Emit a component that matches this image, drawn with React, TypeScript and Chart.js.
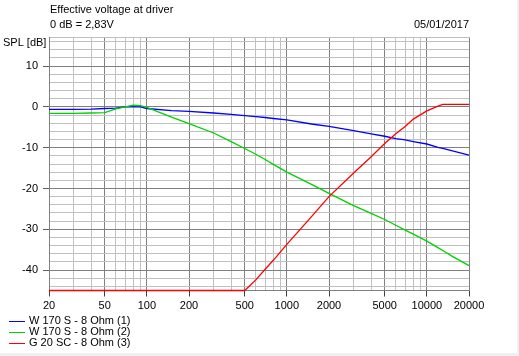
import React, { useEffect, useRef } from 'react';
import { Chart, registerables } from 'chart.js';

Chart.register(...registerables);

// ---- data ----
const freqs = [20, 30, 40, 50, 60, 70, 80, 90, 100, 150, 200, 300, 400, 500, 600, 700, 800, 1000, 1500, 2000, 3000, 4000, 5000, 6000, 7000, 8000, 10000, 12000, 13000, 15000, 20000];
const blueDb = [-0.6, -0.6, -0.55, -0.4, -0.3, 0, 0.05, 0, -0.4, -0.9, -1.1, -1.5, -1.85, -2.15, -2.4, -2.6, -2.85, -3.2, -4.2, -4.8, -5.8, -6.6, -7.2, -7.8, -8.1, -8.5, -9.1, -9.9, -10.2, -10.7, -11.8];
const greenDb = [-1.6, -1.6, -1.5, -1.4, -0.5, 0, 0.4, 0.3, -0.1, -2.5, -4.1, -6.4, -8.5, -10.2, -11.6, -12.9, -14.1, -16.0, -19.0, -21.2, -24.2, -26.1, -27.6, -29.0, -30.2, -31.2, -32.9, -34.5, -35.2, -36.5, -38.9];
const redDb = [-45, -45, -45, -45, -45, -45, -45, -45, -45, -45, -45, -45, -45, -45, -42.4, -39.8, -37.6, -33.7, -26.9, -22.0, -16.2, -12.2, -9.0, -6.6, -4.8, -3.0, -1.0, 0.2, 0.6, 0.6, 0.6];

const seriesLabels = ['W 170 S - 8 Ohm (1)', 'W 170 S - 8 Ohm (2)', 'G 20 SC - 8 Ohm (3)'];
const seriesColors = ['#0000ff', '#00d000', '#ff0000'];

const xGridValues = [20, 30, 40, 50, 60, 70, 80, 90, 100, 200, 300, 400, 500, 600, 700, 800, 900, 1000, 2000, 3000, 4000, 5000, 6000, 7000, 8000, 9000, 10000, 20000];
const xTickLabels = [20, 50, 100, 200, 500, 1000, 2000, 5000, 10000, 20000];
const yGridValues = [-45, -44, -42, -40, -38, -36, -34, -32, -30, -28, -26, -24, -22, -20, -18, -16, -14, -12, -10, -8, -6, -4, -2, 0, 2, 4, 6, 8, 10, 12, 14, 16, 17];
const yTickLabels = [10, 0, -10, -20, -30, -40];
const yMin = -45;
const yMax = 17;

const titleLine1 = 'Effective voltage at driver';
const titleLine2 = '0 dB = 2,83V';
const dateText = '05/01/2017';
const yAxisTitle = 'SPL [dB]';

const FONT = '"Liberation Sans", Arial, sans-serif';

const decorPlugin = {
  id: 'decor',
  afterDraw(chart: any) {
    const ctx = chart.ctx;
    const a = chart.chartArea;
    ctx.save();
    ctx.font = `11px ${FONT}`;
    ctx.fillStyle = '#000';
    ctx.textBaseline = 'middle';
    ctx.textAlign = 'left';
    ctx.fillText(titleLine1, a.left + 1, 10);
    ctx.fillText(titleLine2, a.left + 1, 25);
    ctx.fillText(yAxisTitle, 3, 43);
    ctx.textAlign = 'right';
    ctx.fillText(dateText, a.right, 25);
    ctx.textAlign = 'left';
    chart.data.datasets.forEach((ds: any, i: number) => {
      const y = 320.5 + i * 11.2;
      ctx.strokeStyle = ds.borderColor;
      ctx.lineWidth = 1;
      ctx.beginPath();
      ctx.moveTo(9, Math.round(y) + 0.5);
      ctx.lineTo(25, Math.round(y) + 0.5);
      ctx.stroke();
      ctx.fillStyle = '#000';
      ctx.fillText(ds.label, 29, y);
    });
    ctx.fillStyle = '#f0f0f0';
    ctx.fillRect(517, 0, 2, chart.height);
    ctx.fillRect(0, 353, chart.width, 3);
    ctx.restore();
  },
};

export default function App() {
  const ref = useRef<HTMLCanvasElement | null>(null);
  useEffect(() => {
    if (!ref.current) return;
    const dbs = [blueDb, greenDb, redDb];
    const chart = new Chart(ref.current, {
      type: 'line',
      data: {
        datasets: dbs.map((arr, i) => ({
          label: seriesLabels[i],
          data: freqs.map((f, j) => ({ x: f, y: arr[j] })),
          borderColor: seriesColors[i],
          backgroundColor: seriesColors[i],
          borderWidth: 1.3,
          pointRadius: 0,
          tension: 0,
          fill: false,
          clip: 2,
          order: 3 - i,
        })),
      },
      options: {
        responsive: false,
        animation: false,
        events: [],
        layout: { padding: { top: 37.5, right: 50, left: 0, bottom: 0 } },
        plugins: { legend: { display: false }, tooltip: { enabled: false }, title: { display: false } },
        scales: {
          x: {
            type: 'logarithmic',
            min: 20,
            max: 20000,
            afterBuildTicks: (s: any) => {
              s.ticks = xGridValues.map((v) => ({ value: v }));
            },
            afterFit: (s: any) => {
              s.height = 65.5;
            },
            ticks: {
              autoSkip: false,
              maxRotation: 0,
              minRotation: 0,
              padding: 3,
              color: '#000',
              font: { family: FONT, size: 11 },
              major: { enabled: false },
              callback: (v: any) => (xTickLabels.includes(Number(v)) ? String(v) : ''),
            },
            grid: {
              color: (c: any) => (c.tick && xTickLabels.includes(c.tick.value) ? '#808080' : '#c0c0c0'),
              tickColor: (c: any) => (c.tick && xTickLabels.includes(c.tick.value) ? '#404040' : 'rgba(0,0,0,0)'),
              tickLength: 6,
              drawTicks: true,
            },
            border: { display: true, color: '#808080' },
          },
          y: {
            type: 'linear',
            min: yMin,
            max: yMax,
            afterBuildTicks: (s: any) => {
              s.ticks = yGridValues.map((v) => ({ value: v }));
            },
            afterFit: (s: any) => {
              s.width = 49;
            },
            ticks: {
              autoSkip: false,
              padding: 5,
              color: '#000',
              font: { family: FONT, size: 11 },
              callback: (v: any) => (yTickLabels.includes(Number(v)) ? String(v) : ''),
            },
            grid: {
              color: (c: any) => (c.tick && c.tick.value % 10 === 0 ? '#808080' : '#c0c0c0'),
              tickColor: (c: any) => (c.tick && yTickLabels.includes(c.tick.value) ? '#606060' : 'rgba(0,0,0,0)'),
              tickLength: 6,
              drawTicks: true,
            },
            border: { display: true, color: '#808080' },
          },
        },
      },
      plugins: [decorPlugin],
    } as any);
    return () => chart.destroy();
  }, []);
  return (
    <div style={{ position: 'absolute', left: 0, top: 0, width: 519, height: 356, background: '#fff' }}>
      <canvas ref={ref} width={519} height={356} style={{ display: 'block', width: 519, height: 356 }} />
    </div>
  );
}
